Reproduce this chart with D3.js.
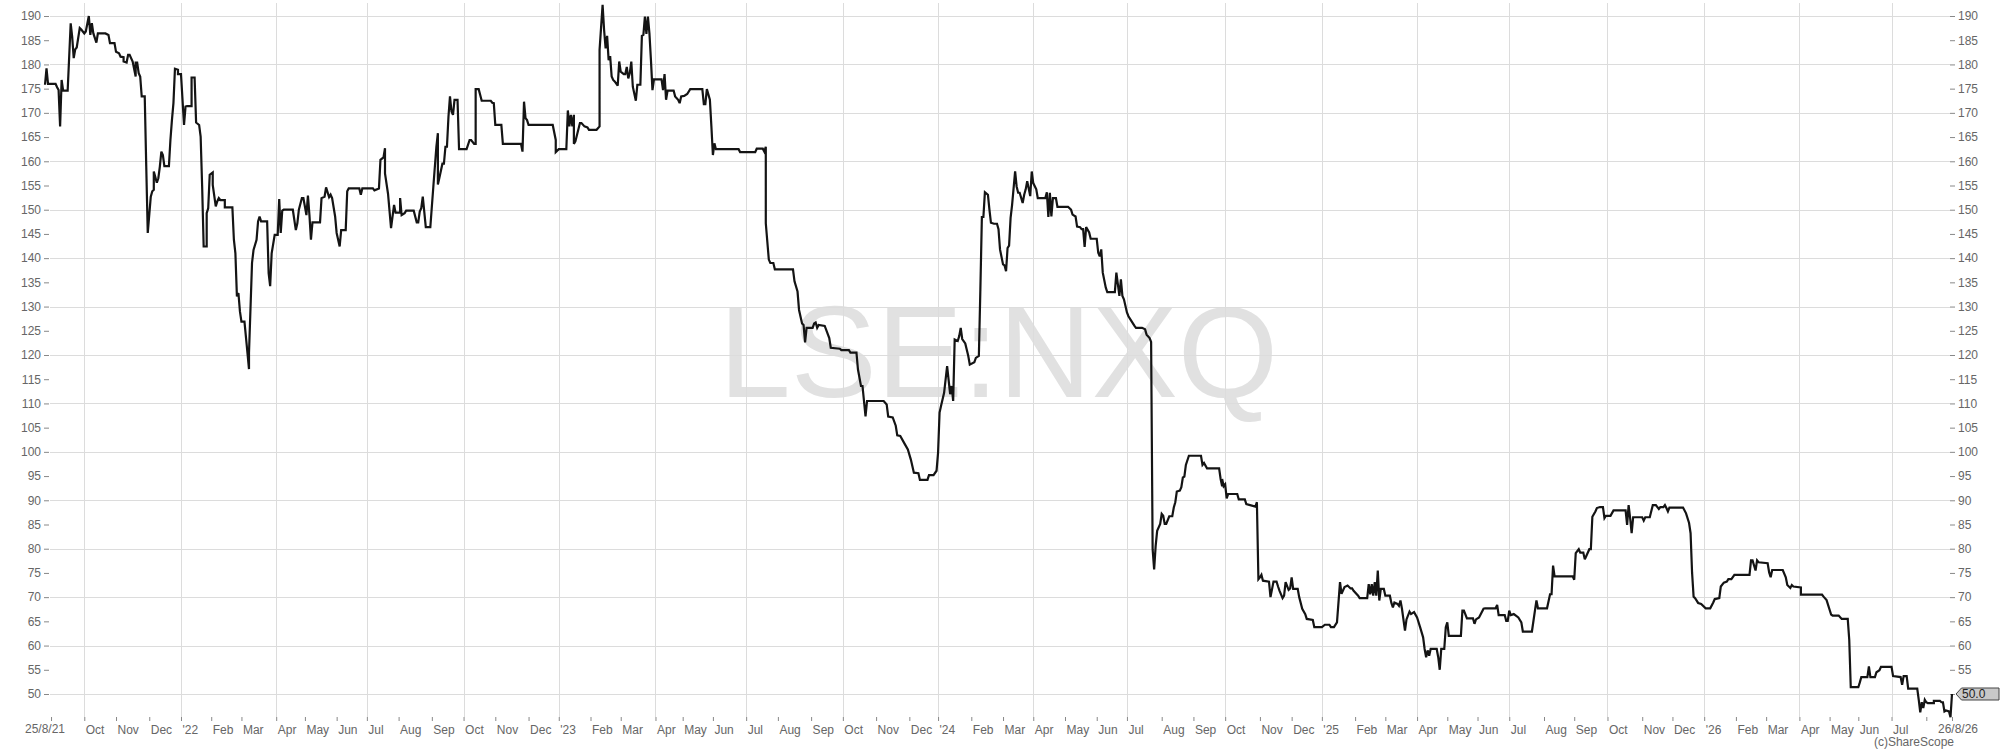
<!DOCTYPE html>
<html><head><meta charset="utf-8">
<script src="https://cdn.jsdelivr.net/npm/d3@7"></script>
<style>
body{margin:0;background:#fff}
svg{display:block}
text{font-family:"Liberation Sans",Arial,Helvetica,sans-serif}
</style>
</head><body>
<svg id="chart" width="2000" height="751"></svg>
<script>
// ---------- data ----------
const startDate = "2021-08-25";
const endDate = "2026-08-26";
const ukHolidays = ["2021-08-30","2021-12-27","2021-12-28",
 "2022-01-03","2022-04-15","2022-04-18","2022-05-02","2022-06-02","2022-06-03","2022-08-29","2022-09-19","2022-12-26","2022-12-27",
 "2023-01-02","2023-04-07","2023-04-10","2023-05-01","2023-05-08","2023-05-29","2023-08-28","2023-12-25","2023-12-26",
 "2024-01-01","2024-03-29","2024-04-01","2024-05-06","2024-05-27","2024-08-26","2024-12-25","2024-12-26",
 "2025-01-01","2025-04-18","2025-04-21","2025-05-05","2025-05-26","2025-08-25","2025-12-25","2025-12-26",
 "2026-01-01","2026-04-03","2026-04-06","2026-05-04","2026-05-25"];
const monthNames = ["Jan","Feb","Mar","Apr","May","Jun","Jul","Aug","Sep","Oct","Nov","Dec"];
const yTickValues = [50,55,60,65,70,75,80,85,90,95,100,105,110,115,120,125,130,135,140,145,150,155,160,165,170,175,180,185,190];
const yGridValues = [50,60,70,80,90,100,110,120,130,140,150,160,170,180,190];
const symbol = "LSE:NXQ";
const credit = "(c)ShareScope";
const startLabel = "25/8/21";
const endLabel = "26/8/26";
const lastPrice = 50.0;
// [trading session number since 25/8/21, price in pence]
const priceSeries = [[0,175.8],[1,179.2],[2,176],[7,176],[8,175.3],[9,174.7],[10,167.2],[11,176.8],[12,174.6],[15,174.6],[17,188.5],[18,185.7],[19,181.3],[20,183.1],[21,183.5],[23,187.5],[24,187.2],[26,186.4],[27,186.8],[29,190],[30,186.1],[31,188.5],[32,186.4],[34,184.5],[35,186.4],[40,186.4],[42,186.1],[43,184.4],[46,184.4],[47,182.6],[49,182.3],[50,181.6],[52,181.5],[52,180.6],[54,180.4],[55,182],[56,182],[58,180.6],[60,177.5],[60,180.4],[61,180.4],[62,178.2],[63,177.5],[64,173.4],[66,173.4],[67,159],[68,145.2],[70,152.7],[71,153.8],[72,154.1],[72,157.9],[74,155.6],[75,156.5],[76,158.9],[77,162],[78,161.3],[79,159],[82,159],[83,164.4],[84,168.5],[85,172],[86,179.1],[88,178.9],[88,178],[90,178],[92,167.5],[93,171.3],[94,171.4],[97,171.4],[97,177.3],[99,177.3],[100,168],[102,167.5],[103,165.1],[104,154.8],[105,142.4],[107,142.4],[107,149.3],[108,150.3],[109,157.2],[111,157.7],[111,155.1],[113,150.7],[114,151.7],[115,152.4],[116,152],[119,152],[119,150.5],[124,150.5],[125,143.8],[126,141],[127,132.1],[128,132.8],[129,129],[130,126.9],[132,126.9],[134,120.4],[135,117.1],[135,120.4],[137,139],[138,141.7],[140,143.8],[141,147.6],[142,148.6],[143,147.6],[147,147.6],[148,136.9],[149,134.2],[150,141],[152,144.8],[154,144.8],[155,152.2],[156,145.2],[157,149.8],[158,150],[164,150],[166,145.8],[167,147.2],[168,150],[170,152.4],[171,152.4],[173,148.9],[174,152.9],[175,148.9],[176,143.8],[177,147.4],[182,147.4],[183,152.4],[185,152.7],[186,154.6],[188,152.6],[189,153.1],[190,152.4],[192,148.6],[193,145.2],[195,142.4],[196,145.8],[199,145.8],[200,153.8],[201,154.4],[208,154.4],[209,153.1],[210,154.4],[217,154.4],[218,154],[221,154.4],[222,160.3],[224,160.8],[225,162.7],[225,157.5],[227,153.3],[229,146.2],[231,151],[232,149.4],[235,149.4],[235,152.4],[236,148.9],[238,149.3],[239,149.8],[244,149.8],[246,147.4],[247,147.4],[248,149.6],[249,150.3],[250,152.7],[252,146.4],[255,146.4],[257,154.8],[259,163],[260,165.8],[260,155.2],[261,156.6],[263,159.5],[264,159.5],[265,163],[266,163],[267,169.2],[268,173.4],[269,170.3],[270,169.6],[271,172.7],[273,172.7],[274,162.5],[279,162.5],[281,164.4],[282,164.4],[284,163.6],[285,163.6],[285,174.9],[287,174.9],[289,172.5],[295,172.5],[296,172.1],[297,172],[298,167.5],[302,167.5],[303,163.6],[315,163.6],[316,162],[317,172.3],[318,168.9],[319,168.5],[320,167.5],[336,167.5],[338,164.4],[338,161.9],[340,162.5],[345,162.5],[346,170.5],[347,167.2],[348,169.6],[349,167.2],[350,169.6],[350,163.6],[351,164.1],[354,167.9],[355,167.9],[357,167.2],[359,167],[360,166.5],[365,166.5],[367,167.2],[367,183],[369,192.3],[370,187.1],[371,183.3],[372,185.9],[373,180.9],[374,181.7],[375,177.5],[376,176.8],[377,176.5],[379,175.6],[380,180.6],[381,178.5],[383,178],[384,178],[385,179.5],[386,177.1],[387,178.2],[388,180.6],[389,175.4],[391,172.5],[392,175.8],[394,175.8],[395,185.9],[396,186.1],[397,189.9],[398,186.3],[399,189.9],[400,186.4],[401,180.9],[402,174.7],[403,176.9],[408,176.9],[409,174.7],[410,178],[411,172.7],[412,174.6],[416,174.6],[417,173.4],[419,172.7],[420,172],[421,173.4],[423,173.5],[425,173.9],[427,174.9],[435,174.9],[436,171.8],[437,171.8],[438,174.9],[440,172.7],[441,167.2],[442,161.3],[443,163.7],[444,162.5],[459,162.5],[460,161.9],[470,161.9],[471,162.6],[475,162.6],[476,162],[477,163],[477,147.2],[479,139.7],[480,139],[482,139],[483,137.7],[495,137.7],[496,135.2],[498,133.1],[499,129.3],[501,126.5],[502,126.2],[503,122.6],[504,125.6],[508,125.6],[509,126.5],[510,126.7],[511,125.6],[512,126.2],[516,126],[519,123.5],[520,121.5],[526,121.3],[527,121],[532,121],[533,120.5],[537,120.5],[538,117],[540,113.6],[541,113.6],[543,107.3],[544,110.5],[555,110.5],[557,109.8],[558,107.3],[561,107.1],[563,105.4],[564,103.4],[566,103.3],[569,101.6],[571,100.5],[573,98.4],[575,95.7],[578,95.6],[579,94.2],[584,94.2],[585,95.2],[588,95.2],[590,96.1],[591,99.8],[592,108.1],[593,109.5],[595,112.2],[597,117.7],[599,111.9],[600,113.6],[601,110.5],[602,123.2],[604,122.9],[605,123.9],[606,125.6],[607,123.3],[609,122.4],[611,119.8],[612,118],[615,118.5],[616,119.4],[618,119.8],[619,133.5],[620,148.5],[621,148.5],[622,153.6],[624,153.1],[625,150],[626,147.3],[628,147.1],[630,147.1],[631,146],[632,141.8],[634,138.7],[635,138.5],[636,137.3],[637,142.1],[638,142.6],[639,148.3],[640,151],[642,157.9],[643,154.8],[644,153.5],[645,153.5],[647,151.4],[648,153.1],[649,154.2],[650,155.9],[652,152.8],[653,157.9],[654,155.5],[656,154.2],[657,152.4],[662,152.4],[663,153.6],[664,148.5],[665,153.5],[666,148.6],[667,152.4],[669,152.4],[670,150.6],[677,150.6],[679,150],[680,149],[682,148.6],[683,146.5],[685,146.4],[686,146],[687,146],[688,142.3],[689,146.4],[691,145.3],[692,144],[696,144],[697,141.1],[698,140.4],[699,141.8],[700,137],[702,133.9],[703,133],[708,133],[709,137],[711,132.2],[712,135.6],[713,132.2],[714,131.5],[716,128.8],[717,128],[719,127],[721,126],[722,125.6],[726,125.6],[728,125.3],[729,124.2],[731,123.5],[732,122.7],[733,79.9],[734,75.7],[735,80.6],[736,83.7],[738,85.1],[739,87.2],[740,86.8],[741,85.1],[742,85.1],[744,86.7],[746,86.7],[747,88.5],[748,89.6],[749,91.8],[751,92],[752,92.7],[753,94.7],[754,94.9],[755,97.3],[757,99.2],[765,99.2],[766,97.3],[767,97.7],[769,96.6],[777,96.6],[778,94.4],[779,92.9],[779,94.4],[780,92.9],[781,93.3],[782,90.4],[783,91.3],[789,91.3],[790,90.2],[794,90.2],[795,89.2],[801,88.7],[802,89.6],[803,73.7],[804,74.1],[805,74.6],[806,73.4],[810,73.2],[811,70],[813,73.2],[815,73.2],[816,72.2],[817,71.3],[819,69.8],[820,70.3],[821,73.1],[823,71.5],[824,71.8],[825,74.1],[826,71.7],[829,71.7],[830,70],[832,67.6],[834,66.5],[835,65.5],[839,65.3],[840,63.8],[845,63.8],[847,64.3],[850,64.3],[851,63.8],[853,63.8],[855,64.8],[857,73.1],[858,70.7],[860,72.1],[862,72.4],[864,71.8],[865,71.8],[866,71.3],[869,70.3],[870,69.8],[875,69.8],[876,72.7],[877,70.6],[878,72.7],[879,70.3],[880,73.1],[881,70.3],[882,75.5],[883,69.3],[884,71.7],[886,71.7],[887,70.3],[890,70.3],[891,68.8],[892,67.9],[893,68.9],[895,68.6],[896,68.2],[897,69.3],[898,67.6],[900,63.1],[901,65.4],[903,67],[904,66.5],[906,66.9],[908,65.8],[910,63.8],[912,61.7],[913,59.3],[914,57.6],[915,59],[916,57.9],[917,59.3],[921,59.3],[922,57.6],[923,55],[924,59.3],[926,59.3],[927,63.8],[928,64.8],[929,62],[937,62],[938,67.2],[939,67.2],[941,65.6],[945,65.6],[946,64.5],[947,65.4],[949,65.8],[952,67.6],[953,67.7],[960,67.7],[961,68.4],[962,66.3],[966,66.3],[967,65.1],[968,65.1],[969,67.2],[970,66.3],[972,66.5],[975,65.8],[977,64.8],[978,62.9],[984,62.9],[986,67.2],[987,69.3],[988,67.7],[994,67.7],[996,70.6],[997,70.6],[998,76.5],[999,74.3],[1011,74.3],[1012,73.6],[1013,79.1],[1015,79.9],[1016,79.2],[1018,79.2],[1019,77.8],[1020,78.5],[1022,79.9],[1023,79.9],[1024,86.6],[1026,87.7],[1027,88.4],[1029,88.6],[1031,88.6],[1032,86.3],[1033,86.8],[1036,86.8],[1038,87.9],[1046,87.9],[1047,84.9],[1048,89],[1049,86.3],[1050,83.2],[1051,86.5],[1057,86.5],[1058,85.8],[1059,86.5],[1062,86.5],[1064,89],[1066,89],[1068,88.2],[1069,88.6],[1071,88.6],[1072,89],[1073,88.4],[1074,87.7],[1075,88.5],[1084,88.5],[1086,87.3],[1088,85.3],[1089,83.2],[1090,75],[1091,70.1],[1092,69.8],[1094,68.8],[1096,68.6],[1099,67.7],[1102,67.7],[1104,68.9],[1105,69.6],[1108,69.8],[1109,72.2],[1111,73],[1113,73.2],[1114,73.7],[1116,73.7],[1118,74.6],[1128,74.6],[1129,77.6],[1130,77.6],[1132,75.5],[1133,77.6],[1134,77.2],[1140,77],[1141,75.1],[1142,74.1],[1143,75.6],[1150,75.6],[1152,74.1],[1153,72.5],[1155,71.9],[1156,72.5],[1157,72.2],[1162,72],[1162,70.5],[1176,70.5],[1177,70.1],[1179,69.4],[1181,67.4],[1182,66.4],[1183,66.2],[1187,66.2],[1189,65.5],[1193,65.5],[1194,61.2],[1195,51.4],[1200,51.4],[1201,52.4],[1202,53.5],[1206,53.5],[1207,55.7],[1208,53.5],[1211,53.5],[1212,54.5],[1214,54.9],[1215,55.6],[1222,55.6],[1223,53.7],[1228,53.5],[1229,51.9],[1230,53.7],[1232,53.7],[1233,51.1],[1239,51.1],[1240,48.8],[1241,46.2],[1242,48.3],[1243,47.1],[1244,48.8],[1245,48.3],[1246,48.1],[1250,48.1],[1250,48.6],[1254,48.6],[1255,48.3],[1256,48.3],[1257,46.4],[1258,46.6],[1260,46.4],[1261,45.2],[1262,50]];

// ---------- trading calendar ----------
const hol = new Set(ukHolidays);
const sessionsDates = [];
const endD = new Date(endDate + "T00:00:00Z");
for (let d = new Date(startDate + "T00:00:00Z"); d <= endD; d = new Date(d.getTime() + 864e5)) {
  const wd = d.getUTCDay();
  const iso = d.toISOString().slice(0, 10);
  if (wd !== 0 && wd !== 6 && !hol.has(iso)) sessionsDates.push(new Date(d));
}
const lastIdx = sessionsDates.length - 1;
const monthStarts = [];
for (let i = 1; i < sessionsDates.length; i++) {
  if (sessionsDates[i].getUTCMonth() !== sessionsDates[i - 1].getUTCMonth()) monthStarts.push(i);
}

// ---------- scales ----------
const plotTop = 3, plotBottom = 717, gridLeft = 50, gridRight = 1950;
const x = d3.scaleLinear().domain([0, lastIdx]).range([45, 1952]);
const y = d3.scaleLinear().domain([50, 190]).range([694, 16]);

const svg = d3.select("#chart");
const textColor = "#666";
const gridColor = "#dcdcdc";
const fontFam = '"Liberation Sans",Arial,sans-serif';

// watermark
svg.append("text")
  .attr("x", (x(0) + x(lastIdx)) / 2).attr("y", 397)
  .attr("text-anchor", "middle")
  .attr("font-size", 129).attr("fill", "#e1e1e1")
  .text(symbol);

// horizontal grid
svg.append("g").selectAll("line").data(yGridValues).join("line")
  .attr("x1", gridLeft).attr("x2", gridRight)
  .attr("y1", d => Math.round(y(d)) + 0.5).attr("y2", d => Math.round(y(d)) + 0.5)
  .attr("stroke", gridColor).attr("stroke-width", 1);

// vertical quarter grid
const quarterStarts = monthStarts.filter(i => sessionsDates[i].getUTCMonth() % 3 === 0);
svg.append("g").selectAll("line").data(quarterStarts).join("line")
  .attr("x1", d => Math.round(x(d)) + 0.5).attr("x2", d => Math.round(x(d)) + 0.5)
  .attr("y1", plotTop).attr("y2", plotBottom)
  .attr("stroke", gridColor).attr("stroke-width", 1);

// y axes (the right-hand label at the last price is hidden under the price tag)
const yLeft = d3.axisLeft(y).tickValues(yTickValues).tickSize(5).tickPadding(3).tickFormat(d3.format("d"));
const yRight = d3.axisRight(y).tickValues(yTickValues).tickSize(5).tickPadding(3)
  .tickFormat(d => d === lastPrice ? "" : d3.format("d")(d));
const gL = svg.append("g").attr("transform", "translate(49,0)").call(yLeft);
const gR = svg.append("g").attr("transform", "translate(1950,0)").call(yRight);
[gL, gR].forEach(g => {
  g.select(".domain").remove();
  g.selectAll("line").attr("stroke", "#888");
  g.selectAll("text").attr("fill", textColor).attr("font-size", 12).attr("font-family", fontFam);
});

// x axis
const monthTickIdx = monthStarts.concat([lastIdx]);
const xAxis = d3.axisBottom(x).tickValues(monthTickIdx).tickSize(4).tickPadding(4)
  .tickFormat(i => {
    if (i === lastIdx) return "";
    const px = x(i);
    if (px < x(0) + 30 || px > x(lastIdx) - 40) return "";
    const d = sessionsDates[i];
    const m = d.getUTCMonth();
    return m === 0 ? "'" + String(d.getUTCFullYear()).slice(2) : monthNames[m];
  });
const gX = svg.append("g").attr("transform", `translate(0,${plotBottom})`).call(xAxis);
gX.select(".domain").remove();
gX.selectAll("line").attr("stroke", "#888");
gX.selectAll("text").attr("fill", textColor).attr("font-size", 12).attr("font-family", fontFam)
  .attr("text-anchor", "start").attr("x", 1);

// start / end date labels
svg.append("text").attr("x", x(0)).attr("y", 733).attr("text-anchor", "middle")
  .attr("font-size", 12).attr("fill", textColor).text(startLabel);
svg.append("text").attr("x", x(lastIdx) + 6).attr("y", 733).attr("text-anchor", "middle")
  .attr("font-size", 12).attr("fill", textColor).text(endLabel);

// price line
const line = d3.line().x(d => x(d[0])).y(d => y(d[1]));
svg.append("path").datum(priceSeries)
  .attr("d", line).attr("fill", "none")
  .attr("stroke", "#141414").attr("stroke-width", 2.2).attr("stroke-linejoin", "miter").attr("stroke-miterlimit", 3);

// last price tag
const lx = x(lastIdx) + 4, ly = y(lastPrice);
svg.append("path")
  .attr("d", `M${lx},${ly} L${lx + 5.5},${ly - 6} L1999,${ly - 6} L1999,${ly + 6} L${lx + 5.5},${ly + 6} Z`)
  .attr("fill", "#c8c8c8").attr("stroke", "#444").attr("stroke-width", 1);
svg.append("text").attr("x", lx + 6).attr("y", ly + 4.3)
  .attr("font-size", 12).attr("fill", "#222").text(d3.format(".1f")(lastPrice));

// credit
svg.append("text").attr("x", 1954).attr("y", 746).attr("text-anchor", "end")
  .attr("font-size", 12).attr("fill", textColor).text(credit);
</script>
</body></html>
